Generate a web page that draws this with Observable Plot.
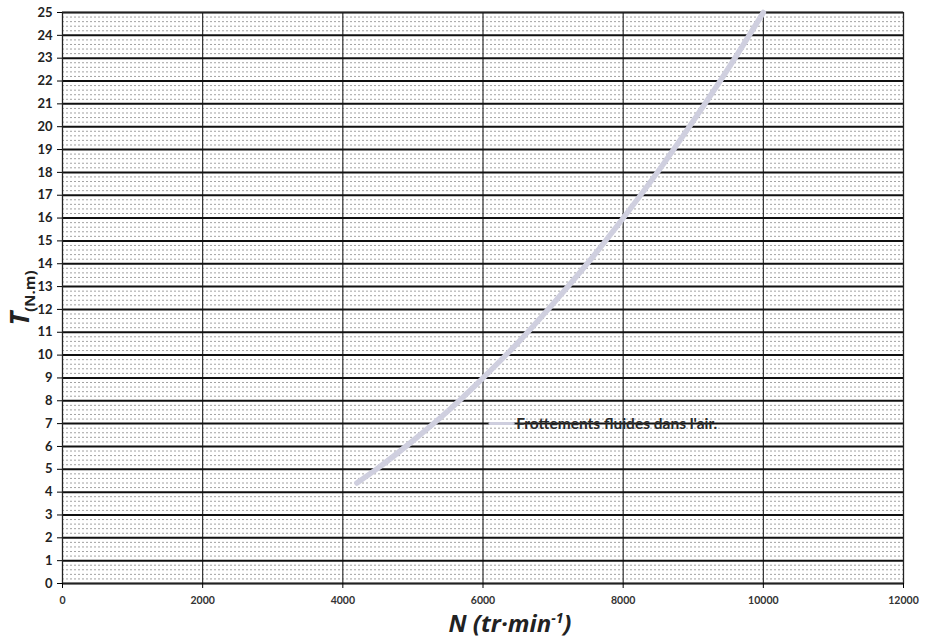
<!DOCTYPE html>
<html>
<head>
<meta charset="utf-8">
<script src="https://cdn.jsdelivr.net/npm/d3@7"></script>
<script src="https://cdn.jsdelivr.net/npm/@observablehq/plot@0.6"></script>
<style>
  html, body { margin: 0; padding: 0; background: #fff; }
  #chart { position: relative; width: 937px; height: 643px; }
  svg { font-family: Lato, "Open Sans", sans-serif; }
</style>
</head>
<body>
<div id="chart"></div>
<script>
// Data: friction torque vs speed
const speedN = [4200, 4500, 5000, 5500, 6000, 6500, 7000, 7500, 8000, 8500, 9000, 9500, 10000];
const torqueT = [4.4, 5.05, 6.25, 7.55, 9.0, 10.55, 12.25, 14.05, 16.0, 18.05, 20.25, 22.55, 25.0];
const seriesName = "Frottements fluides dans l'air.";
const xTicks = [0, 2000, 4000, 6000, 8000, 10000, 12000];
const yTicks = d3.range(0, 26, 1);
const yMinor = d3.range(0, 25.01, 0.2).filter(v => Math.abs(v - Math.round(v)) > 1e-6);
const legendAt = {n0: 6100, n1: 6430, t: 7.0};

const data = speedN.map((n, i) => ({N: n, T: torqueT[i]}));

const W = 937, H = 643;
const plot = Plot.plot({
  width: W,
  height: H,
  marginLeft: 62,
  marginRight: 34,
  marginTop: 12,
  marginBottom: 60,
  style: {fontFamily: "Lato, 'Open Sans', sans-serif", background: "#fff"},
  x: {domain: [0, 12000], ticks: xTicks, label: null},
  y: {domain: [0, 25], ticks: yTicks, label: null},
  marks: [
    Plot.ruleY(yMinor, {stroke: "#8a8a8a", strokeWidth: 0.8, strokeDasharray: "2,2"}),
    Plot.ruleX(xTicks, {stroke: "#222", strokeWidth: 1.1}),
    Plot.ruleY(yTicks, {stroke: "#111", strokeWidth: 2}),
    Plot.frame({stroke: "#222", strokeWidth: 1.2}),
    Plot.axisX({ticks: xTicks, tickFormat: d => String(d), tickSize: 5, tickPadding: 8, fontSize: 10.5, fontWeight: "bold", fill: "#333", label: null}),
    Plot.axisY({ticks: yTicks, tickSize: 5, tickPadding: 5, fontSize: 13, fontWeight: "bold", fill: "#222", label: null}),
    Plot.line(data, {x: "N", y: "T", stroke: "#cfcfdf", strokeWidth: 5.5, curve: "monotone-x"}),
    Plot.line([{N: legendAt.n0, T: legendAt.t}, {N: legendAt.n1, T: legendAt.t}], {x: "N", y: "T", stroke: "#cfcfdf", strokeWidth: 3}),
    Plot.text([seriesName], {x: () => legendAt.n1, y: () => legendAt.t, text: d => d, textAnchor: "start", dx: 3, fontSize: 15.5, fontWeight: "bold", fill: "#2a2a2a"})
  ]
});
document.getElementById("chart").appendChild(plot);

const svg = d3.select(plot);
// X axis title
const xt = svg.append("text")
  .attr("x", 510).attr("y", 632)
  .attr("text-anchor", "middle")
  .attr("font-family", "'Open Sans', Lato, sans-serif")
  .attr("font-size", 24).attr("font-weight", "bold").attr("font-style", "italic")
  .attr("fill", "#222");
xt.append("tspan").text("N (tr·min");
xt.append("tspan").attr("dy", -9).attr("font-size", 14).text("-1");
xt.append("tspan").attr("dy", 9).text(")");

// Y axis title
const yt = svg.append("text")
  .attr("transform", "translate(29,298) rotate(-90)")
  .attr("text-anchor", "middle")
  .attr("font-family", "'Open Sans', Lato, sans-serif")
  .attr("font-size", 26).attr("font-weight", "bold").attr("font-style", "italic")
  .attr("fill", "#222");
yt.append("tspan").text("T");
yt.append("tspan").attr("dy", 6).attr("font-size", 15).attr("font-style", "normal").text("(N.m)");
</script>
</body>
</html>
